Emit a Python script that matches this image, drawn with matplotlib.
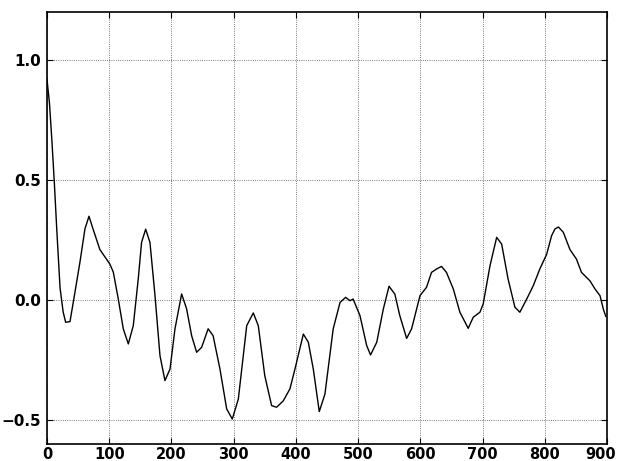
import numpy as np
import matplotlib
matplotlib.use("Agg")
import matplotlib.pyplot as plt
import matplotlib.transforms as mtransforms

# Verdier avlest fra referansen (x = lag, y = verdi)
lag = [0, 4, 8, 12, 15.6, 21, 26, 30, 37, 45, 53, 61, 67.5, 74, 85, 101, 106.6,
       114.6, 122.6, 130.7, 138.7, 146.7, 152, 158.6, 165.5, 173.6, 181.6,
       189.6, 197.7, 205.7, 216.4, 224.4, 232.5, 240.5, 248.6, 259, 267, 278,
       288.8, 297.8, 307.5, 321, 331.6, 339.6, 350, 361, 369, 379.8, 390.5,
       398.5, 412, 420, 428, 437.6, 446.7, 460, 471, 480, 487, 492, 503,
       513.8, 520, 530, 540.5, 549.7, 559, 567, 578, 586, 599.5, 610, 618,
       626, 634, 642, 653, 663.6, 677, 685, 695.8, 701, 712, 722.7, 730.7,
       741, 752, 760, 771, 781.6, 792, 803, 811, 816.4, 822, 829.8, 840.5,
       851, 859, 872.6, 880.7, 888.8, 894, 898]
verdi = [0.92, 0.82, 0.66, 0.48, 0.30, 0.05, -0.05, -0.093, -0.09, 0.033, 0.158,
         0.296, 0.349, 0.296, 0.21, 0.15, 0.116, 0.004, -0.12, -0.183, -0.107,
         0.088, 0.24, 0.295, 0.24, 0.018, -0.232, -0.336, -0.288, -0.12, 0.025,
         -0.037, -0.149, -0.218, -0.197, -0.12, -0.149, -0.288, -0.454, -0.496,
         -0.413, -0.107, -0.054, -0.107, -0.315, -0.44, -0.447, -0.42, -0.37,
         -0.288, -0.142, -0.176, -0.288, -0.465, -0.392, -0.12, -0.01, 0.011,
         -0.003, 0.004, -0.065, -0.19, -0.229, -0.176, -0.038, 0.057, 0.025,
         -0.065, -0.16, -0.12, 0.018, 0.053, 0.115, 0.129, 0.14, 0.115, 0.046,
         -0.051, -0.118, -0.072, -0.051, -0.017, 0.143, 0.261, 0.233, 0.088,
         -0.03, -0.051, 0.004, 0.06, 0.129, 0.19, 0.268, 0.296, 0.304, 0.282,
         0.21, 0.17, 0.115, 0.08, 0.046, 0.018, -0.037, -0.068]

XTICKS = [0, 100, 200, 300, 400, 500, 600, 700, 800, 900]
YTICKS = [-0.5, 0.0, 0.5, 1.0]

fig = plt.figure(figsize=(6.19, 4.61), dpi=100)
ax = fig.add_axes([0.0759, 0.0369, 0.9047, 0.9371])

ax.plot(lag, verdi, color="black", linewidth=1.0)

ax.set_xlim(0, 900)
ax.set_ylim(-0.6, 1.2)
ax.set_xticks(XTICKS)
ax.set_yticks(YTICKS)
ax.set_yticklabels([f"{v:.1f}".replace("-", "\u2212") for v in YTICKS])
ax.tick_params(direction="in", length=4, labelsize=11, top=True, right=True)
ax.tick_params(axis="x", pad=2, labelsize=10.5)
ax.tick_params(axis="y", pad=4)
for lab in ax.get_xticklabels() + ax.get_yticklabels():
    lab.set_fontweight("bold")

# siste x-etikett holdes innenfor figurkanten
siste = ax.get_xticklabels()[-1]
siste.set_horizontalalignment("right")
siste.set_transform(siste.get_transform() +
                    mtransforms.ScaledTranslation(9 / 100, 0, fig.dpi_scale_trans))

ax.grid(True, color="black", linestyle=":", linewidth=0.6, alpha=0.7)
for sp in ax.spines.values():
    sp.set_linewidth(1.2)

plt.savefig("out.png", dpi=100)
plt.close()
